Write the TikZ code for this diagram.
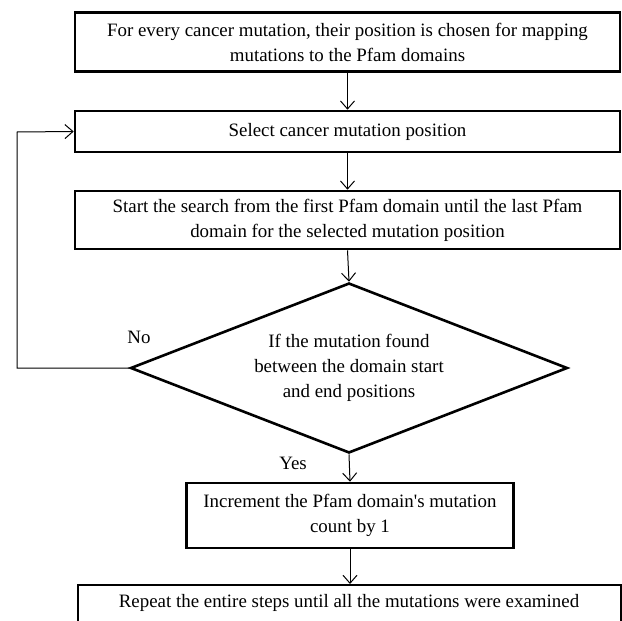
\documentclass[tikz,border=0pt]{standalone}
\usepackage{fontspec}
\setmainfont{Liberation Serif}
\usetikzlibrary{arrows.meta,shapes.geometric}
\begin{document}
\begin{tikzpicture}[x=1pt,y=-1pt,
  box/.style={draw,line width=2.6pt,rectangle,inner sep=0pt,align=center,font=\fontsize{18.9}{25}\selectfont},
  dec/.style={draw,line width=2.6pt,diamond,inner sep=0pt,align=center,font=\fontsize{18.9}{25}\selectfont},
  conn/.style={line width=1pt,-{Straight Barb[length=8pt,width=14pt]}},
  lbl/.style={font=\fontsize{18.9}{22}\selectfont}]
\useasboundingbox (0,0) rectangle (622,621);
\clip (0,0) rectangle (622,621);
\node[box,minimum width=545pt,minimum height=59pt] (b1) at (347.5,42) {For every cancer mutation, their position is chosen for mapping\\mutations to the Pfam domains};
\node[box,minimum width=545pt,minimum height=41pt] (b2) at (347.5,131.5) {Select cancer mutation position};
\node[box,minimum width=545pt,minimum height=58pt] (b3) at (347.5,220) {Start the search from the first Pfam domain until the last Pfam\\domain for the selected mutation position};
\node[dec,minimum width=437pt,minimum height=170pt,aspect=2.57] (d) at (349,368) {If the mutation found\\between the domain start\\and end positions};
\node[box,minimum width=327pt,minimum height=65pt] (b4) at (350,515.5) {Increment the Pfam domain\textquotesingle s mutation\\count by 1};
\node[box,line width=1.8pt,minimum width=543pt,minimum height=60pt,anchor=north west] (b5) at (77,584) {};
\node[lbl,anchor=north] (t5) at (349,591) {Repeat the entire steps until all the mutations were examined};
\node[lbl] (no) at (139,337) {No};
\node[lbl] (yes) at (293,463) {Yes};
\coordinate (c1) at (17,368);
\coordinate (c2) at (17,132);
\draw[conn] (b1.south) -- (b2.north);
\draw[conn] (b2.south) -- (b3.north);
\draw[conn] (b3.south) -- (d.north);
\draw[conn] (d.south) -- (b4.north);
\draw[conn] (b4.south) -- (b4.south |- b5.north);
\draw[conn] (d.west) -- (c1) -- (c2) -- (b2.west);
\end{tikzpicture}
\end{document}
